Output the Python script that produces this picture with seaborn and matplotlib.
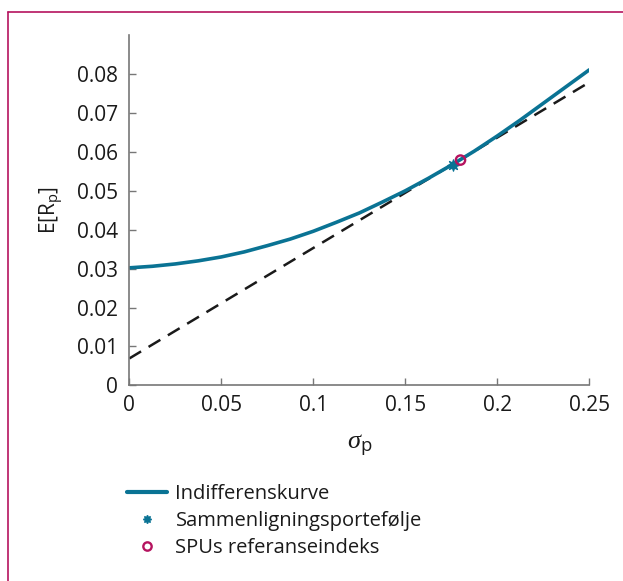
import matplotlib
matplotlib.use("Agg")
import matplotlib.pyplot as plt
from matplotlib.lines import Line2D
import seaborn as sns
import pandas as pd

# indifference curve
sigma = [0, 0.0125, 0.025, 0.0375, 0.05, 0.0625, 0.075, 0.0875, 0.1, 0.1125, 0.125,
         0.1375, 0.15, 0.1625, 0.175, 0.1875, 0.2, 0.2125, 0.225, 0.2375, 0.25]
expected = [0.0302, 0.0306, 0.0312, 0.0320, 0.0330, 0.0343, 0.0359, 0.0376, 0.0396, 0.0419, 0.0443,
            0.0471, 0.0500, 0.0532, 0.0566, 0.0602, 0.0641, 0.0682, 0.0725, 0.0768, 0.0811]

# tangent line
tangent_sigma = [0, 0.25]
tangent_expected = [0.0069, 0.0779]

comparison_point = (0.176, 0.0567)
reference_point = (0.180, 0.0579)

labels = ["Indifferenskurve", "Sammenligningsportefølje", "SPUs referanseindeks"]
xticks = [0, 0.05, 0.1, 0.15, 0.2, 0.25]
yticks = [0, 0.01, 0.02, 0.03, 0.04, 0.05, 0.06, 0.07, 0.08]

blue = "#0a7394"
magenta = "#b5135f"
text_col = "#1a1a1a"

sns.set_style("ticks")
plt.rcParams["font.family"] = ["Open Sans", "DejaVu Sans"]
plt.rcParams["mathtext.fontset"] = "custom"
plt.rcParams["mathtext.rm"] = "Open Sans"
plt.rcParams["mathtext.it"] = "Liberation Serif:italic"

fig = plt.figure(figsize=(6.23, 5.81), dpi=100)
ax = fig.add_axes([0.2075, 0.3368, 0.7384, 0.6026])

curve = pd.DataFrame({"sigma": sigma, "E": expected})
line = pd.DataFrame({"sigma": tangent_sigma, "E": tangent_expected})

sns.lineplot(data=line, x="sigma", y="E", ax=ax, color="#1a1a1a", lw=1.8,
             linestyle=(0, (5.5, 3.5)))
sns.lineplot(data=curve, x="sigma", y="E", ax=ax, color=blue, lw=2.6)
sns.scatterplot(x=[comparison_point[0]], y=[comparison_point[1]], ax=ax,
                marker=(8, 1, 0), s=70, color=blue, edgecolor=blue, linewidth=0.8, zorder=5)
sns.scatterplot(x=[reference_point[0]], y=[reference_point[1]], ax=ax,
                marker="o", s=45, facecolor="none", edgecolor=magenta, linewidth=1.7, zorder=6)

ax.set_xlim(0, 0.25)
ax.set_ylim(0, 0.09)
ax.set_xticks(xticks)
ax.set_xticklabels(["0", "0.05", "0.1", "0.15", "0.2", "0.25"])
ax.set_yticks(yticks)
ax.set_yticklabels(["0", "0.01", "0.02", "0.03", "0.04", "0.05", "0.06", "0.07", "0.08"])
ax.tick_params(direction="in", length=5, width=1, color="#777777", labelsize=15,
               labelcolor=text_col)
ax.tick_params(axis="x", pad=7)
ax.tick_params(axis="y", pad=8)
for side in ["top", "right"]:
    ax.spines[side].set_visible(False)
for side in ["left", "bottom"]:
    ax.spines[side].set_color("#777777")
    ax.spines[side].set_linewidth(1.2)

ax.set_xlabel(r"$\sigma_\mathrm{p}$", fontsize=19, color=text_col, labelpad=12)
ax.set_ylabel(r"E[R$_\mathrm{p}$]", fontsize=15, color=text_col, labelpad=9)

handles = [
    Line2D([], [], color=blue, lw=3),
    Line2D([], [], color=blue, marker=(8, 1, 0), ms=6, ls="none"),
    Line2D([], [], color=magenta, marker="o", ms=6, mfc="none", mew=1.7, ls="none"),
]
fig.legend(handles, labels, loc="upper left", bbox_to_anchor=(0.175, 0.198),
           bbox_transform=fig.transFigure, frameon=False, fontsize=14.5,
           handlelength=2.0, handletextpad=0.4, labelspacing=0.35, labelcolor=text_col)

# frame line on the left and top of the figure
fig.add_artist(Line2D([8 / 623, 8 / 623], [0, 1 - 12 / 581], color=magenta, lw=1.2,
                      transform=fig.transFigure))
fig.add_artist(Line2D([8 / 623, 1], [1 - 12 / 581, 1 - 12 / 581], color=magenta, lw=1.2,
                      transform=fig.transFigure))

fig.savefig("out.png", dpi=100)
